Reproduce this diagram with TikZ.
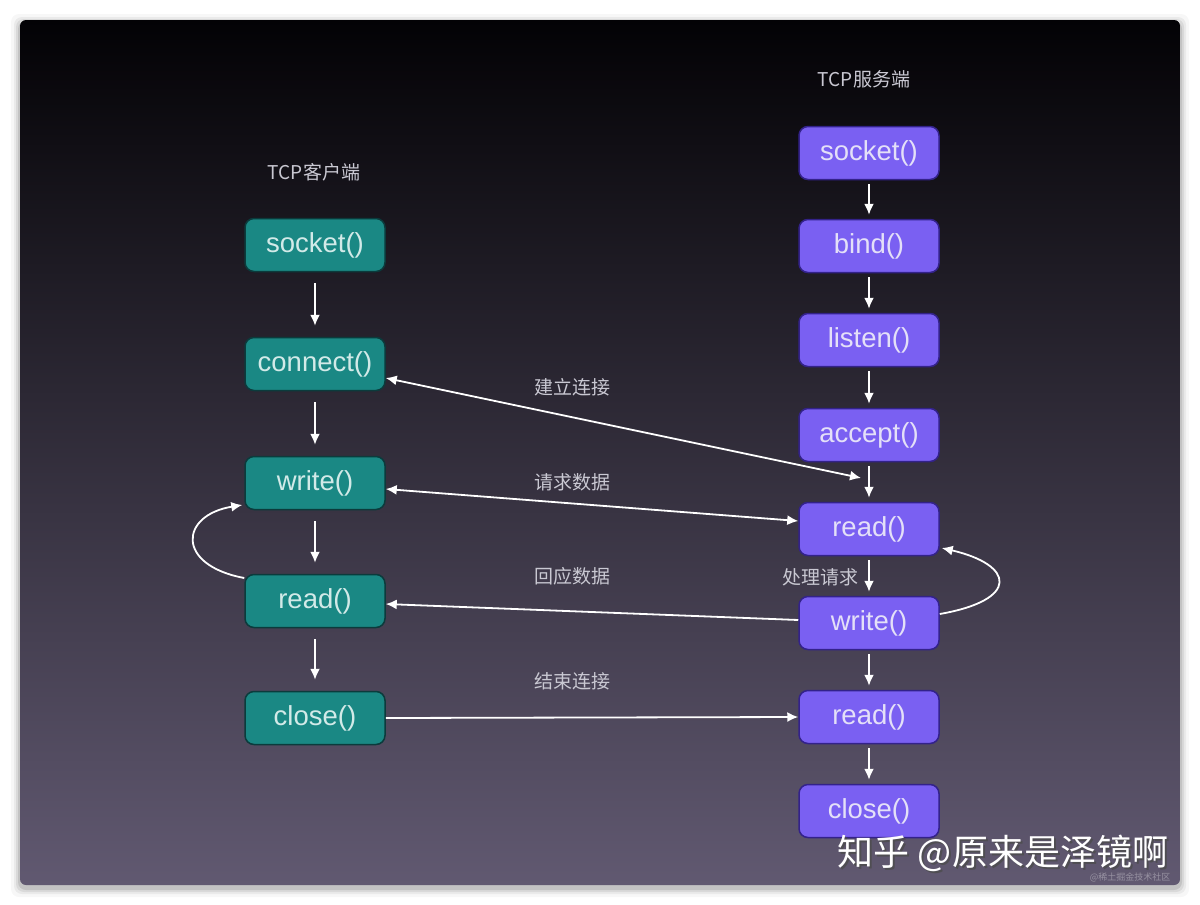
\documentclass[tikz,border=0pt]{standalone}
\usepackage{fontspec}
\setmainfont{Liberation Sans}
\newfontfamily\cjk{Noto Sans CJK SC}
\usetikzlibrary{arrows.meta}
\definecolor{cfill}{HTML}{1A8884}
\definecolor{cedge}{HTML}{0B3B3C}
\definecolor{ctext}{HTML}{D2EAE8}
\definecolor{sfill}{HTML}{7A60F2}
\definecolor{sedge}{HTML}{33228A}
\definecolor{stext}{HTML}{E4E0F8}
\definecolor{lbltext}{HTML}{C9C8D2}
\definecolor{bgtop}{HTML}{030205}
\definecolor{bgmid}{HTML}{211C34}
\definecolor{bgbot}{HTML}{615971}

\begin{document}
\begin{tikzpicture}[x=1pt,y=-1pt,
  cbox/.style={draw=cedge, line width=1.5pt, fill=cfill, rounded corners=9pt,
    minimum width=140pt, minimum height=53pt, inner sep=0pt, text=ctext,
    font=\fontsize{27.5}{29}\selectfont},
  sbox/.style={cbox, draw=sedge, fill=sfill, text=stext},
  flow/.style={draw=white, line width=1.8pt, -{Latex[length=11pt,width=10pt]}},
  both/.style={flow, {Latex[length=11pt,width=10pt]}-{Latex[length=11pt,width=10pt]}},
  lbl/.style={text=lbltext, font=\cjk\fontsize{19}{21}\selectfont}]
\useasboundingbox (0,0) rectangle (1200,905);
% panel with soft shadow
\foreach \d/\o in {9/0.03,6/0.05,4/0.07,2/0.10}
  \fill[black, opacity=\o, rounded corners=8pt] (20-\d,20-\d+3) rectangle (1180+\d,885+\d+3);
\shade[rounded corners=6pt, top color=bgtop, middle color=bgmid, bottom color=bgbot]
  (20,20) rectangle (1180,885);

% client side
\node[lbl] (ctitle) at (314,172) {TCP客户端};
\node[cbox] (csock) at (315,245) {socket()};
\node[cbox] (cconn) at (315,364) {connect()};
\node[cbox] (cwrite) at (315,483) {write()};
\node[cbox] (cread) at (315,601) {read()};
\node[cbox] (cclose) at (315,718) {close()};

% server side
\node[lbl] (stitle) at (864,79) {TCP服务端};
\node[sbox] (ssock) at (869,153) {socket()};
\node[sbox] (sbind) at (869,246) {bind()};
\node[sbox] (slisten) at (869,340) {listen()};
\node[sbox] (saccept) at (869,435) {accept()};
\node[sbox] (sread) at (869,529) {read()};
\node[sbox] (swrite) at (869,623) {write()};
\node[sbox] (sread2) at (869,717) {read()};
\node[sbox] (sclose) at (869,811) {close()};

% vertical flow
\foreach \a/\b in {csock/cconn, cconn/cwrite, cwrite/cread, cread/cclose}
  \draw[flow, shorten <=11pt, shorten >=11pt] (\a) -- (\b);
\foreach \a/\b in {ssock/sbind, sbind/slisten, slisten/saccept, saccept/sread, sread/swrite, swrite/sread2, sread2/sclose}
  \draw[flow, shorten <=4pt, shorten >=4pt] (\a) -- (\b);

% messages between the two sides
\coordinate (hs) at (861,478);
\draw[both] ([yshift=-14pt]cconn.east) -- (hs);
\draw[both] ([yshift=-6pt]cwrite.east) -- ([yshift=8pt]sread.west);
\draw[flow] ([yshift=3pt]swrite.west) -- ([yshift=-3pt]cread.east);
\draw[flow] (cclose.east) -- (sread2.west);
\node[lbl] (l1) at (572,387) {建立连接};
\node[lbl] (l2) at (572,482) {请求数据};
\node[lbl] (l3) at (572,576) {回应数据};
\node[lbl] (l4) at (572,681) {结束连接};
\node[lbl, anchor=east] (l5) at (862,577) {处理请求};

% loops
\draw[flow] ([yshift=23pt]cread.west) .. controls (175,565) and (180,515) .. ([xshift=-2pt,yshift=-22pt]cwrite.west);
\draw[flow] ([yshift=9pt]swrite.east) .. controls (1020,600) and (1015,565) .. ([xshift=2pt,yshift=-19pt]sread.east);

% watermark
\node[font=\cjk\fontsize{36}{38}\selectfont, text=black!70, opacity=0.8] at (1005,855) {知乎 @原来是泽镜啊};
\node[font=\cjk\fontsize{36}{38}\selectfont, text=white] (wm) at (1003,853) {知乎 @原来是泽镜啊};
\node[font=\cjk\fontsize{9}{10}\selectfont, text=white, opacity=0.35] (wm2) at (1130,877) {@稀土掘金技术社区};
\end{tikzpicture}
\end{document}
